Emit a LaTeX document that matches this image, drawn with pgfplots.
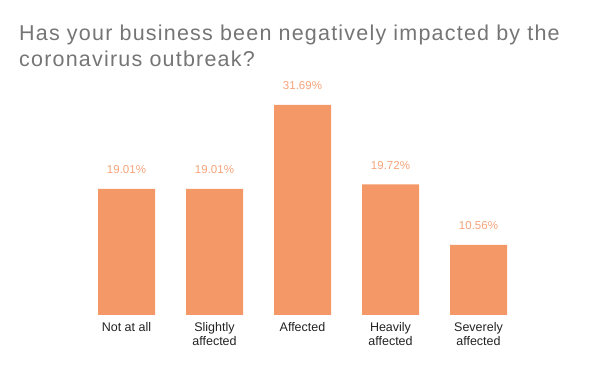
\documentclass[border=0pt]{standalone}
\usepackage{pgfplots}
\pgfplotsset{compat=1.18}
\usepackage{fontspec}
\setmainfont{Liberation Sans}
\newfontfamily\titlefont[LetterSpace=5.6]{Liberation Sans}
\definecolor{barc}{HTML}{F59868}
\definecolor{labc}{HTML}{F5A37A}
\definecolor{titc}{HTML}{757575}
\definecolor{tickc}{HTML}{222222}
\begin{document}
\begin{tikzpicture}[x=1pt,y=1pt]
\path[use as bounding box] (0,0) rectangle (600,371);
\node[anchor=base west, text=titc, inner sep=0, font=\titlefont\fontsize{21.5}{26}\selectfont] at (19,330) {Has your business been negatively impacted by the};
\node[anchor=base west, text=titc, inner sep=0, font=\titlefont\fontsize{21.5}{26}\selectfont] at (19,304) {coronavirus outbreak?};
\begin{axis}[
  at={(82.5pt,56pt)}, anchor=south west,
  scale only axis, width=440pt, height=232pt,
  xmin=-0.5, xmax=4.5, ymin=0, ymax=35,
  axis line style={draw=none},
  major tick length=0pt,
  ytick=\empty,
  ybar, bar width=57pt,
  xtick=data,
  xticklabels={Not at all, Slightly\\affected, Affected, Heavily\\affected, Severely\\affected},
  xticklabel style={align=center, font=\fontsize{12.5}{14}\selectfont, text=tickc, anchor=north, inner sep=0pt, yshift=-7pt},
  nodes near coords={\pgfmathprintnumber[fixed,fixed zerofill,precision=2,assume math mode=true]{\pgfplotspointmeta}\%},
  every node near coord/.append style={anchor=base, yshift=15pt, inner sep=0pt, text=labc, font=\fontsize{11.5}{14}\selectfont},
  clip=false,
]
\addplot[fill=barc, draw=none] coordinates {(0,19.01) (1,19.01) (2,31.69) (3,19.72) (4,10.56)};
\end{axis}
\end{tikzpicture}
\end{document}
